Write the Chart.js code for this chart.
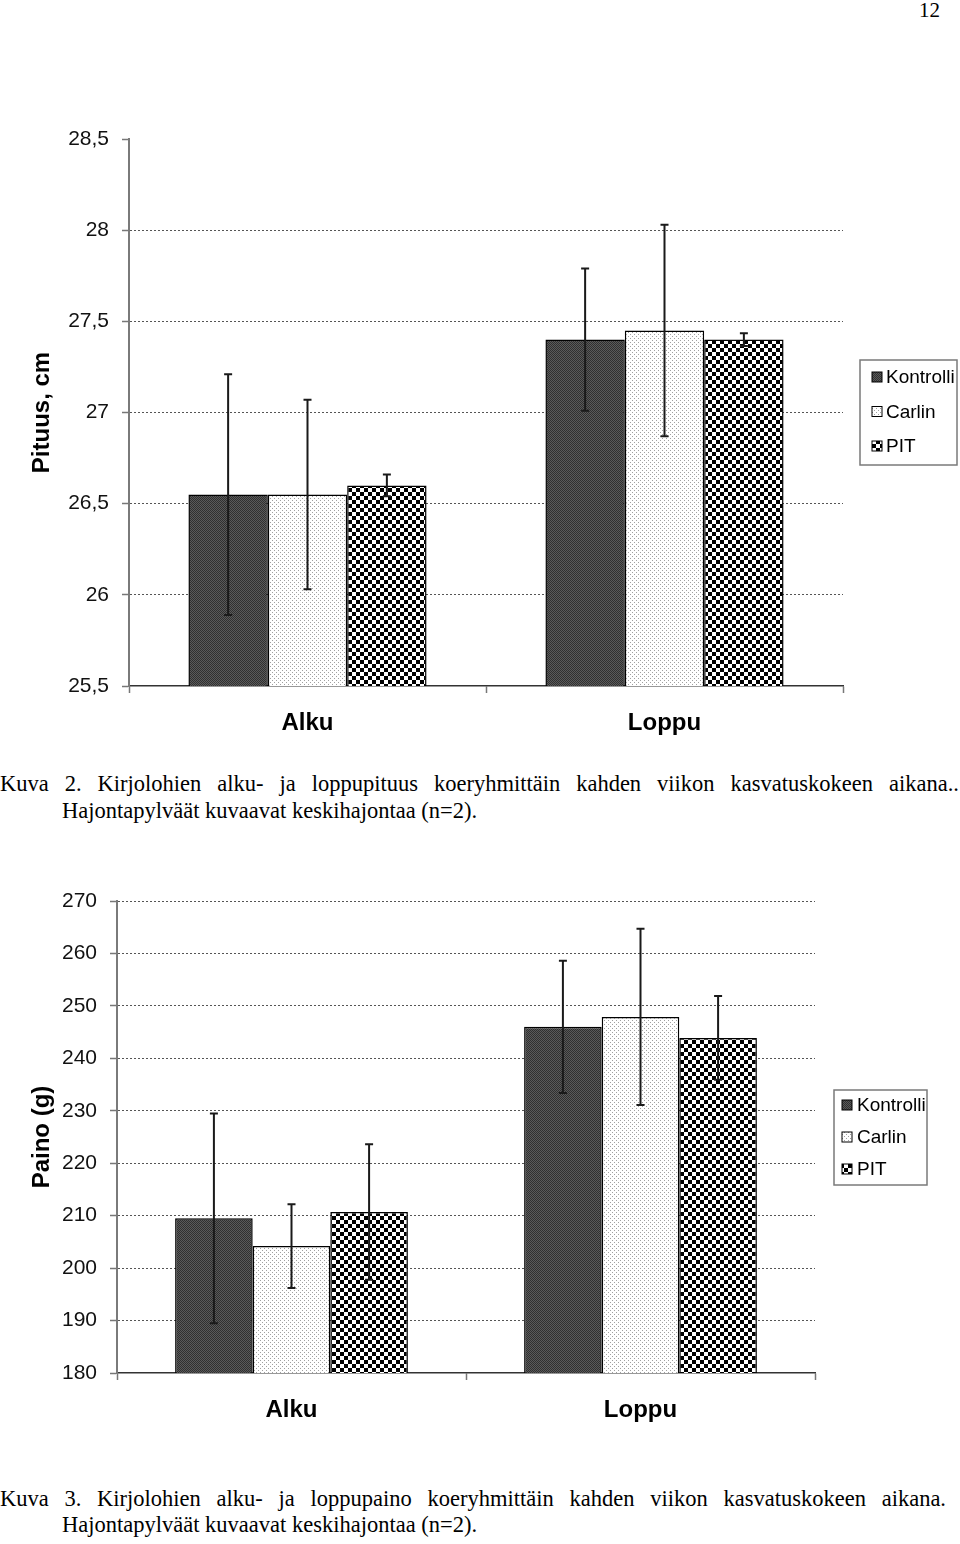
<!DOCTYPE html>
<html><head><meta charset="utf-8">
<script src="https://cdn.jsdelivr.net/npm/chart.js@4.4.1/dist/chart.umd.min.js"></script>
<style>
html,body{margin:0;padding:0;background:#fff;}
body{width:960px;height:1544px;position:relative;overflow:hidden;font-family:"Liberation Serif","Times New Roman",serif;color:#000;}
.pg{position:absolute;top:0;right:20px;font-size:21px;line-height:21px;}
.cap{position:absolute;left:0;font-size:22.5px;line-height:27px;white-space:nowrap;}
.j{text-align:justify;text-align-last:justify;white-space:normal;}
.c2{top:770px;width:959px;}
.c2 .l2{padding-left:62px;}
.c3{top:1486px;width:946px;line-height:26px;}
.c3 .l2{padding-left:62px;}
canvas{position:absolute;left:0;}
#c1{top:100px;}
#c2{top:860px;}
</style></head>
<body>
<div class="pg">12</div>
<canvas id="c1" width="960" height="660" style="width:960px;height:660px"></canvas>
<div class="cap c2"><div class="j">Kuva 2. Kirjolohien alku- ja loppupituus koeryhmittäin kahden viikon kasvatuskokeen aikana..</div><div class="l2">Hajontapylväät kuvaavat keskihajontaa (n=2).</div></div>
<canvas id="c2" width="960" height="600" style="width:960px;height:600px"></canvas>
<div class="cap c3"><div class="j">Kuva 3. Kirjolohien alku- ja loppupaino koeryhmittäin kahden viikon kasvatuskokeen aikana.</div><div class="l2">Hajontapylväät kuvaavat keskihajontaa (n=2).</div></div>
<script>
// ---- data ----
const categories = ['Alku', 'Loppu'];
const seriesNames = ['Kontrolli', 'Carlin', 'PIT'];

const lengthKontrolli = [26.55, 27.40];
const lengthCarlin = [26.55, 27.45];
const lengthPIT = [26.60, 27.40];
const lengthSdKontrolli = [0.66, 0.39];
const lengthSdCarlin = [0.52, 0.58];
const lengthSdPIT = [0.06, 0.035];
const lengthTicks = ['25,5', '26', '26,5', '27', '27,5', '28', '28,5'];

const weightKontrolli = [209.5, 246.0];
const weightCarlin = [204.2, 247.9];
const weightPIT = [210.7, 243.9];
const weightSdKontrolli = [20.0, 12.6];
const weightSdCarlin = [8.0, 16.8];
const weightSdPIT = [12.9, 8.0];
const weightTicks = ['180', '190', '200', '210', '220', '230', '240', '250', '260', '270'];

// ---- patterns ----
function makeTile(kind) {
  const c = document.createElement('canvas');
  let x;
  if (kind === 'dark') {
    c.width = c.height = 2; x = c.getContext('2d');
    x.fillStyle = '#5a5a5a'; x.fillRect(0, 0, 2, 2);
    x.fillStyle = '#303030'; x.fillRect(0, 0, 1, 1); x.fillRect(1, 1, 1, 1);
  } else if (kind === 'dots') {
    c.width = c.height = 4; x = c.getContext('2d');
    x.fillStyle = '#ffffff'; x.fillRect(0, 0, 4, 4);
    x.fillStyle = '#a0a0a0'; x.fillRect(0, 0, 1, 1); x.fillRect(2, 2, 1, 1);
  } else {
    c.width = c.height = 8; x = c.getContext('2d');
    x.fillStyle = '#ffffff'; x.fillRect(0, 0, 8, 8);
    x.fillStyle = '#000000'; x.fillRect(0, 0, 4, 4); x.fillRect(4, 4, 4, 4);
  }
  return c;
}
const tiles = [makeTile('dark'), makeTile('dots'), makeTile('check')];

const errorBarPlugin = {
  id: 'errorBars',
  afterDatasetsDraw(chart) {
    const ctx = chart.ctx, ys = chart.scales.y;
    chart.data.datasets.forEach((ds, i) => {
      const meta = chart.getDatasetMeta(i);
      meta.data.forEach((bar, j) => {
        const v = ds.data[j], e = ds.errors[j];
        const yT = ys.getPixelForValue(v + e), yB = ys.getPixelForValue(v - e);
        ctx.save();
        ctx.strokeStyle = '#1a1a1a'; ctx.lineWidth = 2;
        ctx.beginPath();
        ctx.moveTo(bar.x, yT); ctx.lineTo(bar.x, yB);
        ctx.moveTo(bar.x - 4, yT); ctx.lineTo(bar.x + 4, yT);
        ctx.moveTo(bar.x - 4, yB); ctx.lineTo(bar.x + 4, yB);
        ctx.stroke();
        ctx.restore();
      });
    });
  }
};

const boxLegendPlugin = {
  id: 'boxLegend',
  afterDraw(chart, args, o) {
    const ctx = chart.ctx;
    const bx = chart.chartArea.right + o.dx, by = o.y;
    ctx.save();
    ctx.strokeStyle = '#7a7a7a'; ctx.lineWidth = 1.5;
    ctx.strokeRect(bx, by, o.w, o.h);
    ctx.font = '19px "Liberation Sans", Arial, sans-serif';
    ctx.textBaseline = 'middle';
    chart.data.datasets.forEach((ds, i) => {
      const cy = by + o.first + i * o.step;
      ctx.fillStyle = ds.backgroundColor;
      ctx.fillRect(bx + o.sq, cy - 5, 10, 10);
      ctx.strokeStyle = '#000'; ctx.lineWidth = 1;
      ctx.strokeRect(bx + o.sq, cy - 5, 10, 10);
      ctx.fillStyle = '#000';
      ctx.fillText(ds.label, bx + o.tx, cy + 1);
    });
    ctx.restore();
  }
};

function buildChart(id, vals, sds, tickLabels, min, max, step, title, pad, yWidth, xHeight, hideTop, legendOpts) {
  const el = document.getElementById(id);
  const ctx = el.getContext('2d');
  const datasets = vals.map((v, i) => ({
    label: seriesNames[i],
    data: v,
    errors: sds[i],
    backgroundColor: ctx.createPattern(tiles[i], 'repeat'),
    borderColor: '#000',
    borderWidth: 1.5,
    borderSkipped: false,
    categoryPercentage: 0.667,
    barPercentage: 1.0
  }));
  return new Chart(el, {
    type: 'bar',
    data: { labels: categories, datasets },
    options: {
      responsive: false, animation: false, devicePixelRatio: 1,
      layout: { padding: pad },
      plugins: { legend: { display: false }, tooltip: { enabled: false }, boxLegend: legendOpts },
      scales: {
        x: {
          afterFit: s => { s.height = xHeight; },
          grid: { display: true, drawOnChartArea: false, drawTicks: true, tickLength: 7, tickColor: '#777', tickWidth: 1.5, offset: true },
          border: { color: '#333', width: 1.5 },
          ticks: { color: '#000', padding: 16, font: { family: '"Liberation Sans", Arial, sans-serif', size: 24, weight: 'bold' } }
        },
        y: {
          min: min, max: max,
          afterFit: s => { s.width = yWidth; },
          ticks: {
            stepSize: step, autoSkip: false, padding: 13, color: '#111',
            font: { family: '"Liberation Sans", Arial, sans-serif', size: 21 },
            callback: (value, index) => tickLabels[index]
          },
          grid: {
            color: c => {
              const last = tickLabels.length - 1;
              if (c.index === 0 || (hideTop && c.index === last)) return 'rgba(0,0,0,0)';
              return '#555';
            },
            lineWidth: 1, drawTicks: true, tickLength: 7, tickColor: '#777', tickWidth: 1.5, tickBorderDash: []
          },
          border: { color: '#7a7a7a', width: 2, dash: [2, 2] },
          title: { display: true, text: title, color: '#000', padding: { top: 28, bottom: 0 },
                   font: { family: '"Liberation Sans", Arial, sans-serif', size: 24, weight: 'bold' } }
        }
      }
    },
    plugins: [errorBarPlugin, boxLegendPlugin]
  });
}

buildChart('c1',
  [lengthKontrolli, lengthCarlin, lengthPIT],
  [lengthSdKontrolli, lengthSdCarlin, lengthSdPIT],
  lengthTicks, 25.5, 28.5, 0.5, 'Pituus, cm',
  { top: 39, right: 117, left: 0, bottom: 0 }, 129, 74, true,
  { dx: 17, y: 260, w: 97, h: 105, first: 17, step: 34.5, sq: 12, tx: 26 });

buildChart('c2',
  [weightKontrolli, weightCarlin, weightPIT],
  [weightSdKontrolli, weightSdCarlin, weightSdPIT],
  weightTicks, 180, 270, 10, 'Paino (g)',
  { top: 41, right: 145, left: 0, bottom: 0 }, 117, 87, false,
  { dx: 19, y: 230, w: 93, h: 95, first: 15, step: 32, sq: 8, tx: 23 });
</script>
</body></html>
